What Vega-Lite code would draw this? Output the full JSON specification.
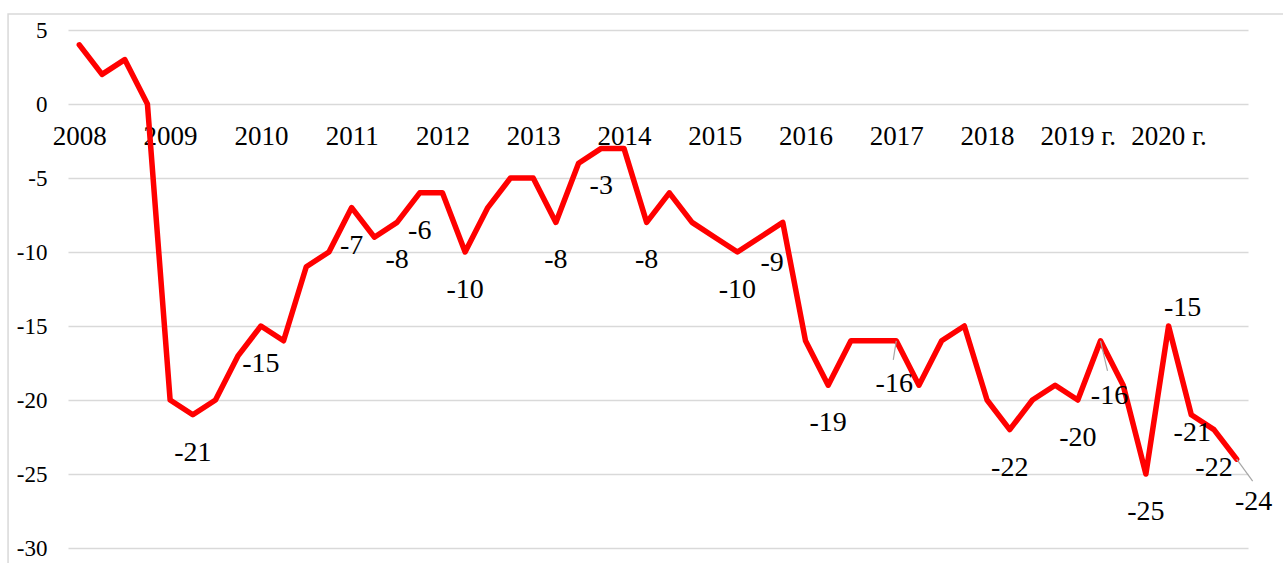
{
  "$schema": "https://vega.github.io/schema/vega-lite/v6.json",
  "autosize": {"type": "none"},
  "padding": {"left": 68, "top": 30, "right": 35, "bottom": 15},
  "width": 1180,
  "height": 518,
  "background": "white",
  "config": {
    "view": {"stroke": null},
    "font": "Liberation Serif",
    "axis": {"labelFont": "Liberation Serif", "labelColor": "#000000"}
  },
  "data": {
    "values": [
      {"quarter": "2008 Q1", "value": 4}, {"quarter": "2008 Q2", "value": 2}, {"quarter": "2008 Q3", "value": 3}, {"quarter": "2008 Q4", "value": 0},
      {"quarter": "2009 Q1", "value": -20}, {"quarter": "2009 Q2", "value": -21}, {"quarter": "2009 Q3", "value": -20}, {"quarter": "2009 Q4", "value": -17},
      {"quarter": "2010 Q1", "value": -15}, {"quarter": "2010 Q2", "value": -16}, {"quarter": "2010 Q3", "value": -11}, {"quarter": "2010 Q4", "value": -10},
      {"quarter": "2011 Q1", "value": -7}, {"quarter": "2011 Q2", "value": -9}, {"quarter": "2011 Q3", "value": -8}, {"quarter": "2011 Q4", "value": -6},
      {"quarter": "2012 Q1", "value": -6}, {"quarter": "2012 Q2", "value": -10}, {"quarter": "2012 Q3", "value": -7}, {"quarter": "2012 Q4", "value": -5},
      {"quarter": "2013 Q1", "value": -5}, {"quarter": "2013 Q2", "value": -8}, {"quarter": "2013 Q3", "value": -4}, {"quarter": "2013 Q4", "value": -3},
      {"quarter": "2014 Q1", "value": -3}, {"quarter": "2014 Q2", "value": -8}, {"quarter": "2014 Q3", "value": -6}, {"quarter": "2014 Q4", "value": -8},
      {"quarter": "2015 Q1", "value": -9}, {"quarter": "2015 Q2", "value": -10}, {"quarter": "2015 Q3", "value": -9}, {"quarter": "2015 Q4", "value": -8},
      {"quarter": "2016 Q1", "value": -16}, {"quarter": "2016 Q2", "value": -19}, {"quarter": "2016 Q3", "value": -16}, {"quarter": "2016 Q4", "value": -16},
      {"quarter": "2017 Q1", "value": -16}, {"quarter": "2017 Q2", "value": -19}, {"quarter": "2017 Q3", "value": -16}, {"quarter": "2017 Q4", "value": -15},
      {"quarter": "2018 Q1", "value": -20}, {"quarter": "2018 Q2", "value": -22}, {"quarter": "2018 Q3", "value": -20}, {"quarter": "2018 Q4", "value": -19},
      {"quarter": "2019 Q1", "value": -20}, {"quarter": "2019 Q2", "value": -16}, {"quarter": "2019 Q3", "value": -19}, {"quarter": "2019 Q4", "value": -25},
      {"quarter": "2020 Q1", "value": -15}, {"quarter": "2020 Q2", "value": -21}, {"quarter": "2020 Q3", "value": -22}, {"quarter": "2020 Q4", "value": -24}
    ]
  },
  "layer": [
    {
      "data": {"values": [{}]},
      "mark": {"type": "rect", "fill": null, "stroke": "#d9d9d9", "strokeWidth": 1.5, "clip": false},
      "encoding": {
        "x": {"datum": -0.0508, "type": "quantitative", "scale": {"domain": [0, 1], "nice": false, "zero": false}, "axis": null},
        "x2": {"datum": 1.04},
        "y": {"datum": 6.08, "type": "quantitative"},
        "y2": {"datum": -31.6}
      }
    },
    {
      "encoding": {
        "x": {
          "field": "quarter",
          "type": "ordinal",
          "sort": null,
          "scale": {"type": "point", "padding": 0.5},
          "axis": {
            "title": null,
            "orient": "bottom",
            "offset": -444,
            "domain": false,
            "ticks": false,
            "grid": false,
            "labelAngle": 0,
            "labelFontSize": 27,
            "labelPadding": 19,
            "labelOverlap": false,
            "labelExpr": "indexof(datum.value, 'Q1') > 0 ? (toNumber(substring(datum.value, 0, 4)) >= 2019 ? substring(datum.value, 0, 4) + ' г.' : substring(datum.value, 0, 4)) : ''"
          }
        },
        "y": {
          "field": "value",
          "type": "quantitative",
          "scale": {"domain": [-30, 5], "nice": false, "zero": false},
          "axis": {
            "title": null,
            "values": [-30, -25, -20, -15, -10, -5, 0, 5],
            "domain": false,
            "ticks": false,
            "grid": true,
            "gridColor": "#d9d9d9",
            "gridWidth": 1.5,
            "labelFontSize": 23,
            "labelPadding": 21,
            "labelExpr": "toString(datum.value)"
          }
        }
      },
      "layer": [
        {
          "mark": {"type": "line", "color": "#ff0000", "strokeWidth": 5.5, "strokeJoin": "round", "strokeCap": "round"}
        },
        {
          "transform": [{"filter": {"field": "quarter", "oneOf": ["2017 Q1"]}}],
          "mark": {"type": "rule", "color": "#a6a6a6", "strokeWidth": 1.2, "x2Offset": -3, "y2Offset": 19},
          "encoding": {"x2": {"field": "quarter"}, "y2": {"field": "value"}}
        },
        {
          "transform": [{"filter": {"field": "quarter", "oneOf": ["2019 Q2"]}}],
          "mark": {"type": "rule", "color": "#a6a6a6", "strokeWidth": 1.2, "x2Offset": 7, "y2Offset": 30},
          "encoding": {"x2": {"field": "quarter"}, "y2": {"field": "value"}}
        },
        {
          "transform": [{"filter": {"field": "quarter", "oneOf": ["2020 Q4"]}}],
          "mark": {"type": "rule", "color": "#a6a6a6", "strokeWidth": 1.2, "x2Offset": 16, "y2Offset": 22},
          "encoding": {"x2": {"field": "quarter"}, "y2": {"field": "value"}}
        },
        {
          "transform": [{"filter": {"field": "quarter", "oneOf": ["2009 Q2", "2010 Q1", "2011 Q1", "2011 Q3", "2011 Q4", "2012 Q2", "2013 Q2", "2013 Q4", "2014 Q2", "2015 Q2", "2016 Q2", "2018 Q2", "2019 Q1", "2019 Q4", "2020 Q3"]}}],
          "mark": {"type": "text", "fontSize": 28, "font": "Liberation Serif", "color": "#000000", "baseline": "middle", "align": "center", "dy": 38},
          "encoding": {"text": {"field": "value", "type": "nominal"}}
        },
        {
          "transform": [{"filter": {"field": "quarter", "oneOf": ["2015 Q3"]}}],
          "mark": {"type": "text", "fontSize": 28, "font": "Liberation Serif", "color": "#000000", "baseline": "middle", "align": "center", "dx": 12, "dy": 26},
          "encoding": {"text": {"field": "value", "type": "nominal"}}
        },
        {
          "transform": [{"filter": {"field": "quarter", "oneOf": ["2017 Q1"]}}],
          "mark": {"type": "text", "fontSize": 28, "font": "Liberation Serif", "color": "#000000", "baseline": "middle", "align": "center", "dx": -2, "dy": 43},
          "encoding": {"text": {"field": "value", "type": "nominal"}}
        },
        {
          "transform": [{"filter": {"field": "quarter", "oneOf": ["2019 Q2"]}}],
          "mark": {"type": "text", "fontSize": 28, "font": "Liberation Serif", "color": "#000000", "baseline": "middle", "align": "center", "dx": 9, "dy": 55},
          "encoding": {"text": {"field": "value", "type": "nominal"}}
        },
        {
          "transform": [{"filter": {"field": "quarter", "oneOf": ["2020 Q1"]}}],
          "mark": {"type": "text", "fontSize": 28, "font": "Liberation Serif", "color": "#000000", "baseline": "middle", "align": "center", "dx": 14, "dy": -18},
          "encoding": {"text": {"field": "value", "type": "nominal"}}
        },
        {
          "transform": [{"filter": {"field": "quarter", "oneOf": ["2020 Q2"]}}],
          "mark": {"type": "text", "fontSize": 28, "font": "Liberation Serif", "color": "#000000", "baseline": "middle", "align": "center", "dx": 1, "dy": 18},
          "encoding": {"text": {"field": "value", "type": "nominal"}}
        },
        {
          "transform": [{"filter": {"field": "quarter", "oneOf": ["2020 Q4"]}}],
          "mark": {"type": "text", "fontSize": 28, "font": "Liberation Serif", "color": "#000000", "baseline": "middle", "align": "center", "dx": 17, "dy": 43},
          "encoding": {"text": {"field": "value", "type": "nominal"}}
        }
      ]
    }
  ],
  "resolve": {"scale": {"x": "independent"}}
}
